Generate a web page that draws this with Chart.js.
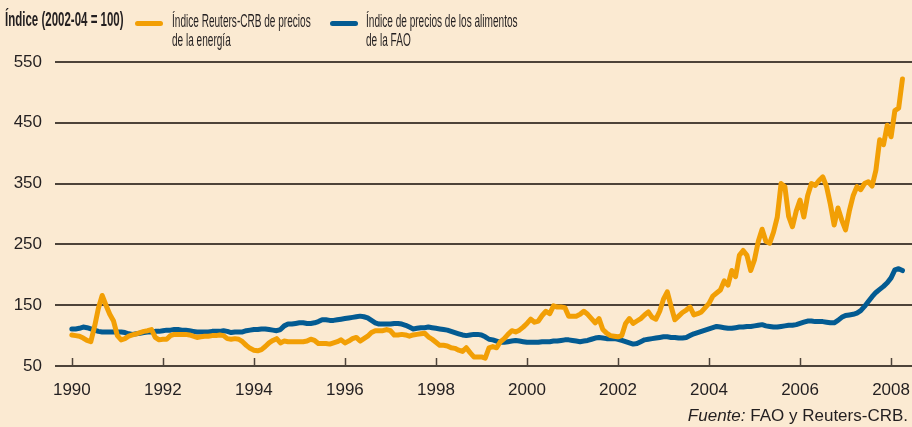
<!DOCTYPE html>
<html>
<head>
<meta charset="utf-8">
<script src="https://cdn.jsdelivr.net/npm/chart.js"></script>
<style>
  html, body { margin: 0; padding: 0; background: #fbead2; }
  #wrap { position: relative; width: 912px; height: 427px; background: #fbead2; overflow: hidden; }
  #myChart { position: absolute; left: 0; top: 0; }
  .cond { position: absolute; white-space: nowrap; transform-origin: 0 0;
          font-family: "Liberation Sans", Arial, sans-serif; color: #231f20; }
  .title { left: 5px; top: 8px; font-size: 20px; font-weight: bold; line-height: 22px; transform: scaleX(0.575); }
  .leg { font-size: 17.5px; line-height: 19px; top: 12px; transform: scaleX(0.575); }
  .swatch { position: absolute; top: 21px; width: 28px; height: 5px; border-radius: 3px; }
  .foot { position: absolute; right: 4px; top: 407px; font-size: 17px; line-height: 18px;
          font-family: "Liberation Sans", Arial, sans-serif; color: #231f20; white-space: nowrap; }
</style>
</head>
<body>
<div id="wrap">
  <canvas id="myChart" width="912" height="427"></canvas>
  <div class="cond title">Índice (2002-04 = 100)</div>
  <div class="swatch" style="left:135px;background:#f29f05"></div>
  <div class="cond leg" style="left:172px">Índice Reuters-CRB de precios<br>de la energía</div>
  <div class="swatch" style="left:330px;background:#035b92"></div>
  <div class="cond leg" style="left:366px">Índice de precios de los alimentos<br>de la FAO</div>
  <div class="foot"><i>Fuente:</i> FAO y Reuters-CRB.</div>
</div>
<script>
// monthly values, Jan 1990 - Apr 2008
var startYear = 1990;
var tickYears = [1990, 1992, 1994, 1996, 1998, 2000, 2002, 2004, 2006, 2008];
var yTicks = [50, 150, 250, 350, 450, 550];

var energia = [
  101,100,99,96,92,90,115,145,166,150,135,124,   // 1990
  100,93,95,99,101,103,105,107,108,110,97,93,
  94,94,100,102,102,102,102,101,99,97,98,99,
  99,100,100,101,100,95,94,95,94,90,84,79,
  76,75,77,82,88,92,95,88,91,90,90,90,           // 1994
  90,90,91,94,92,87,87,87,86,88,90,93,
  88,91,95,97,91,95,99,105,108,108,108,110,
  108,101,101,102,101,99,101,102,103,104,98,94,
  89,84,84,83,80,79,76,74,80,72,65,65,           // 1998
  65,63,80,82,80,90,95,102,108,106,109,114,
  120,127,122,124,133,140,136,149,147,147,146,132,
  132,132,135,140,135,128,121,128,110,104,100,99,
  98,100,120,128,120,124,128,134,139,130,127,140, // 2002
  160,172,148,126,132,138,142,147,134,136,139,146,
  153,165,170,175,190,183,207,197,232,240,232,207,
  225,255,275,255,252,270,295,350,345,296,279,305,
  323,295,330,350,347,355,361,345,316,282,310,290, // 2006
  274,305,330,345,340,350,353,346,372,422,414,446,
  427,470,474,522
];

var alimentos = [
  111,111,112,114,113,111,109,107,106,106,106,106, // 1990
  106,106,105,103,102,103,104,105,106,106,107,107,
  108,109,109,110,110,109,109,108,107,106,106,106,
  106,107,107,107,108,107,105,106,106,106,108,109,
  110,110,111,111,110,109,108,110,116,119,119,120, // 1994
  121,121,120,120,121,123,126,126,125,125,126,127,
  128,129,130,131,132,131,129,125,121,119,119,119,
  119,120,120,119,117,114,111,112,113,113,114,113,
  112,111,110,109,107,105,103,101,100,101,102,102, // 1998
  101,98,94,93,91,89,89,90,91,92,91,90,
  89,89,89,89,90,90,90,91,91,92,93,93,
  92,91,90,91,92,94,96,97,96,95,95,95,
  94,92,90,88,86,87,90,93,94,95,96,97,             // 2002
  98,98,97,97,96,96,97,100,103,105,107,109,
  111,113,115,114,113,112,112,113,114,114,115,115,
  116,117,118,116,115,114,114,115,116,117,117,118,
  120,122,124,124,123,123,123,122,121,121,125,130, // 2006
  133,134,135,137,141,148,156,164,171,176,181,187,
  195,208,210,207
];

function toPoints(arr) {
  return arr.map(function (v, i) { return { x: startYear + i / 12, y: v }; });
}

var gridColor = '#4d4339';
var textColor = '#231f20';

// small tick marks standing on the x axis
var xTickMarks = {
  id: 'xTickMarks',
  afterDraw: function (chart) {
    var c = chart.ctx, xs = chart.scales.x, b = chart.chartArea.bottom;
    c.save();
    c.strokeStyle = gridColor;
    c.lineWidth = 1.5;
    tickYears.forEach(function (yr) {
      var px = Math.round(xs.getPixelForValue(yr)) + 0.5;
      c.beginPath();
      c.moveTo(px, b - 8);
      c.lineTo(px, b);
      c.stroke();
    });
    c.restore();
  }
};

var ctx = document.getElementById('myChart').getContext('2d');
var myChart = new Chart(ctx, {
  type: 'line',
  data: {
    datasets: [{
      label: 'Índice Reuters-CRB de precios de la energía',
      data: toPoints(energia),
      borderColor: '#f29f05',
      borderWidth: 5,
      pointRadius: 0,
      tension: 0,
      borderJoinStyle: 'round',
      borderCapStyle: 'round'
    }, {
      label: 'Índice de precios de los alimentos de la FAO',
      data: toPoints(alimentos),
      borderColor: '#035b92',
      borderWidth: 5,
      pointRadius: 0,
      tension: 0,
      borderJoinStyle: 'round',
      borderCapStyle: 'round'
    }]
  },
  options: {
    responsive: false,
    animation: false,
    devicePixelRatio: 1,
    layout: { padding: { top: 62, right: 0, left: 0, bottom: 0 } },
    plugins: { legend: { display: false }, tooltip: { enabled: false }, title: { display: false } },
    scales: {
      x: {
        type: 'linear',
        min: 1989.63,
        max: 2008.46,
        afterBuildTicks: function (s) { s.ticks = tickYears.map(function (v) { return { value: v }; }); },
        afterFit: function (s) { s.height = 61; s.paddingLeft = 0; s.paddingRight = 0; },
        grid: { display: false },
        border: { display: false },
        ticks: {
          padding: 6,
          maxRotation: 0,
          autoSkip: false,
          color: textColor,
          font: { family: 'Liberation Sans, Arial, sans-serif', size: 17 },
          callback: function (v) { return String(v); }
        }
      },
      y: {
        min: 50,
        max: 550,
        afterBuildTicks: function (s) { s.ticks = yTicks.map(function (v) { return { value: v }; }); },
        afterFit: function (s) { s.width = 55; },
        grid: { color: gridColor, lineWidth: 2, drawTicks: false },
        border: { display: false },
        ticks: {
          padding: 13,
          color: textColor,
          font: { family: 'Liberation Sans, Arial, sans-serif', size: 17 }
        }
      }
    }
  },
  plugins: [xTickMarks]
});
</script>
</body>
</html>
